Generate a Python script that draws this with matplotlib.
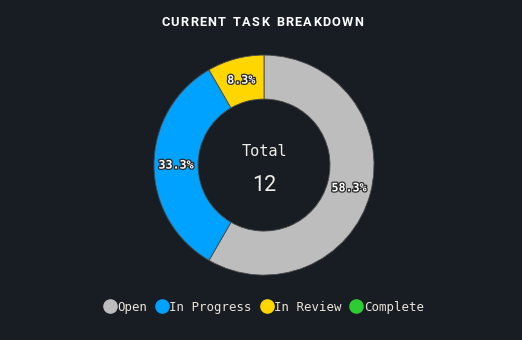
import matplotlib.pyplot as plt
import matplotlib.patheffects as pe
from matplotlib.lines import Line2D

statuses = ['Open', 'In Progress', 'In Review', 'Complete']
counts = [7, 4, 1, 0]
colors = ['#bdbdbd', '#00a2ff', '#ffd600', '#2ecc33']

title = 'CURRENT TASK BREAKDOWN'
bg = '#181d24'
total = sum(counts)

fig = plt.figure(figsize=(5.22, 3.40), dpi=100, facecolor=bg)
ax = fig.add_axes([0.295, 0.191, 0.4215, 0.647])
ax.set_facecolor(bg)

# zero slices are left out of the ring but stay in the legend
vals = [c for c in counts if c > 0]
cols = [col for c, col in zip(counts, colors) if c > 0]

def fmt(p):
    return '%.1f%%' % p if p > 0 else ''

wedges, texts, autotexts = ax.pie(
    vals, colors=cols, startangle=90, counterclock=False, radius=1,
    autopct=fmt, pctdistance=0.8,
    wedgeprops=dict(width=0.4, edgecolor='#4a4a4a', linewidth=0.6),
    textprops=dict(color='white', fontsize=8.4, fontweight='bold',
                   family='DejaVu Sans Mono'))
for t in autotexts:
    t.set_path_effects([pe.withStroke(linewidth=1.8, foreground='#2a2a2a')])

ax.set_xlim(-1, 1)
ax.set_ylim(-1, 1)
ax.set_aspect('equal')
ax.axis('off')

ax.text(0, 0.12, 'Total', ha='center', va='center', color='#f0ede6',
        fontsize=11, family='DejaVu Sans Mono')
ax.text(0, -0.19, str(total), ha='center', va='center', color='#f0ede6',
        fontsize=15.5, family='Roboto')

# title with letter spacing: draw char by char
renderer = fig.canvas.get_renderer()
spacing = 1.25  # px between letters
widths = []
for ch in title:
    t = fig.text(0, 0, ch if ch != ' ' else 'I', fontsize=9.2, fontweight='bold', family='Roboto')
    w = t.get_window_extent(renderer).width
    if ch == ' ':
        w = w * 1.3
    widths.append(w)
    t.remove()
full = sum(widths) + spacing * (len(title) - 1)
x = 262 - full / 2
W = fig.get_figwidth() * fig.dpi
for ch, w in zip(title, widths):
    if ch != ' ':
        fig.text(x / W, 0.935, ch, ha='left', va='center', color='white',
                 fontsize=9.2, fontweight='bold', family='Roboto')
    x += w + spacing

handles = [Line2D([0], [0], marker='o', linestyle='', markersize=9.5,
                  markerfacecolor=c, markeredgecolor=c) for c in colors]
leg = fig.legend(handles, statuses, loc='center', bbox_to_anchor=(0.504, 0.097),
                 ncol=4, frameon=False, handletextpad=0.0, columnspacing=0.6,
                 handlelength=1.2, prop=dict(family='DejaVu Sans Mono', size=8.9))
for t in leg.get_texts():
    t.set_color('#ece4d8')

fig.savefig('out.png', dpi=100, facecolor=bg)
